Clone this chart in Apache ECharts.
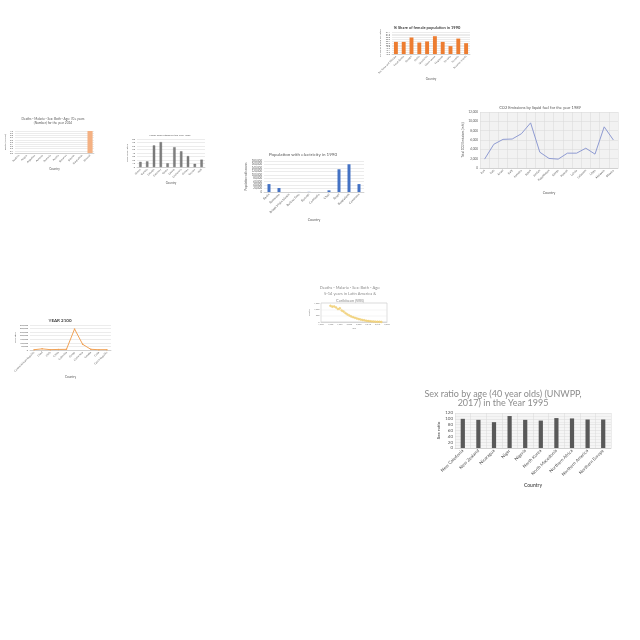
<!DOCTYPE html>
<html><head><meta charset="utf-8">
<script src="https://cdn.jsdelivr.net/npm/echarts@6/dist/echarts.min.js"></script>
<style>html,body{margin:0;padding:0;background:#fff}#c{width:640px;height:640px}</style>
</head><body><div id="c"></div>
<script>
// ---- data ----
const femaleCountries = ["Sao Tome and Principe","Saudi Arabia","Senegal","Serbia","Seychelles","Sierra Leone","Singapore","Slovakia","Slovenia","Solomon Islands"];
const femaleShare = [50.32,50.32,50.80,50.25,50.37,50.94,50.32,49.86,50.68,50.18];

const co2Countries = ["Iran","Iraq","Israel","Italy","Jamaica","Japan","Jordan","Kazakhstan","Kenya","Kuwait","Latvia","Lebanon","Libya","Malaysia","Mexico"];
const co2Values = [1900,5080,6140,6210,7340,9670,3390,2050,1900,3180,3180,4240,2970,8820,6000];

const elecCountries = ["Benin","Botswana","British Virgin Islands","Burkina Faso","Burundi","Cambodia","Chad","Brazil","Bangladesh","Cameroon"];
const elecValues = [46000,23000,0,400,900,200,9600,132000,161000,46000];

const laborCountries = ["Gabon","Gambia","Georgia","Germany","Ghana","Greece","Guatemala","Guinea","Guyana","Haiti"];
const laborValues = [14.6,16,61.6,71,10.5,56.5,44.8,31,9,21];

const mal70Countries = ["Andorra","Angola","Argentina","Armenia","Australia","Austria","Bahamas","Bahrain","Bangladesh","Burundi"];
const mal70Values = [0,0,0,0,0,0,0,0,0,1];

const y2100Countries = ["Central African Republic","Chad","Chile","China","Colombia","Congo","Costa Rica","Croatia","Cuba","Czech Republic"];
const y2100Values = [4000,16000,5000,8000,9000,294000,80000,10000,4000,5000];

const malLAYears = [1990,1991,1992,1993,1994,1995,1996,1997,1998,1999,2000,2001,2002,2003,2004,2005,2006,2007,2008,2009,2010,2011,2012,2013,2014,2015,2016,2017];
const malLAValues = [1280,1210,1230,1150,1020,1080,900,820,700,600,520,440,380,330,280,230,190,160,130,100,80,60,45,35,25,18,12,8];

const sexCountries = ["New Caledonia","New Zealand","Nicaragua","Niger","Nigeria","North Korea","North Macedonia","Northern Africa","Northern America","Northern Europe"];
const sexValues = [100,96.5,88.6,109.6,96.5,94,102.6,101.4,97.7,97.7];

// ---- build ----
const FONT = 'Lato';
const grids = [], xAxes = [], yAxes = [], series = [], titles = [];
const light = {color:'#d9d9d9', width:0.5};
function addChart(cfg){
  const gi = grids.length;
  grids.push(Object.assign({containLabel:false, show:!!cfg.gridBg || !!cfg.border,
    backgroundColor: cfg.gridBg || 'transparent', borderColor: cfg.border || 'transparent', borderWidth: cfg.border?0.5:0}, cfg.grid));
  xAxes.push(Object.assign({gridIndex:gi, type:'category', data:cfg.cats,
    axisLabel:{rotate:45, interval:0, fontSize:cfg.xfs, color:'#595959', margin:2, fontFamily:FONT},
    axisTick:{show:false}, axisLine:{lineStyle:{color:'#bfbfbf', width:0.6}},
    splitLine:{show:!!cfg.xSplit, lineStyle:light},
    name:'Country', nameLocation:'middle', nameGap:cfg.xGap,
    nameTextStyle:{fontSize:cfg.xfs+0.5, color:'#595959', fontFamily:FONT, fontWeight:cfg.nameBold?'bold':'normal'}}, cfg.xExtra||{}));
  yAxes.push(Object.assign({gridIndex:gi, type:'value', min:cfg.ymin, max:cfg.ymax, interval:cfg.yint,
    axisLabel:{fontSize:cfg.yfs, color:'#595959', margin:2, fontFamily:FONT, formatter:cfg.yfmt},
    axisLine:{show:false}, axisTick:{show:false},
    splitLine:{show:true, lineStyle:light},
    name:cfg.yname, nameLocation:'middle', nameGap:cfg.yGap, nameRotate:90,
    nameTextStyle:{fontSize:cfg.yfs, color:'#595959', fontFamily:FONT, fontWeight:cfg.nameBold?'bold':'normal'}}, cfg.yExtra||{}));
  series.push(Object.assign({xAxisIndex:gi, yAxisIndex:gi, data:cfg.data, silent:true, animation:false}, cfg.series));
  titles.push({text:cfg.title, left:cfg.tx, top:cfg.ty, textAlign:'center', padding:0,
    textStyle:Object.assign({fontSize:cfg.tfs, color:'#595959', fontWeight:'normal', fontFamily:FONT, lineHeight:cfg.tlh||cfg.tfs*1.2}, cfg.tstyle||{})});
}

// A: female share
addChart({grid:{left:392,top:32,width:78,height:22}, cats:femaleCountries, data:femaleShare,
  xfs:2.5, xGap:17, yfs:2.2, ymin:49, ymax:51.4, yint:0.2, yfmt:v=>v.toFixed(1), yname:'% share of female population', yGap:9,
  series:{type:'bar', barWidth:'50%', itemStyle:{color:'#ED7D31'}},
  title:'% Share of female population in 1990', tx:427, ty:25, tfs:4, tstyle:{color:'#404040', fontWeight:'bold'}});

// B: CO2 line
addChart({grid:{left:480,top:112,width:138,height:56}, gridBg:'#f2f2f2', xSplit:true, cats:co2Countries, data:co2Values,
  xfs:3, xGap:23, yfs:3, ymin:0, ymax:12000, yint:2000, yname:'Total CO2 Emissions (in kt)', yGap:13,
  series:{type:'line', symbol:'none', lineStyle:{color:'#8f9bd2', width:1}},
  title:'CO2 Emissions by liquid fuel for the year 1989', tx:540, ty:105, tfs:4});

// C: electricity
addChart({grid:{left:264,top:161,width:100,height:31}, cats:elecCountries, data:elecValues,
  xfs:3, xGap:26, yfs:2.8, ymin:0, ymax:180000, yint:20000, yfmt:v=>v.toLocaleString('en-US'), yname:'Population with access', yGap:15,
  series:{type:'bar', barWidth:'30%', itemStyle:{color:'#4472C4'}},
  title:'Population with electricity in 1990', tx:303, ty:152, tfs:4.5});

// D: labor
addChart({grid:{left:137,top:139,width:68,height:28}, cats:laborCountries, data:laborValues,
  xfs:2.5, xGap:14, yfs:2.3, ymin:0, ymax:80, yint:10, yname:'Labor force rating', yGap:9,
  series:{type:'bar', barWidth:'35%', itemStyle:{color:'#808080', borderColor:'#595959', borderWidth:0.3}},
  title:'Labor force rating for the year 1987', tx:170, ty:134, tfs:2.6});

// E: malaria 70+
addChart({grid:{left:15,top:131,width:79,height:22}, cats:mal70Countries, data:mal70Values,
  xfs:2.5, xGap:13, yfs:2.2, ymin:0, ymax:1, yint:0.1, yfmt:v=>v.toFixed(1), yname:'Deaths (Number)', yGap:8,
  series:{type:'bar', barWidth:'65%', itemStyle:{color:'#F4B183'}},
  title:'Deaths - Malaria - Sex: Both - Age: 70+ years\n(Number) for the year 2014', tx:53, ty:117, tfs:3.2, tlh:4});

// F: year 2100
addChart({grid:{left:30,top:325,width:81,height:25}, cats:y2100Countries, data:y2100Values,
  xfs:2.6, xGap:20, yfs:2.2, ymin:0, ymax:350000, yint:50000, yfmt:v=>v.toLocaleString('en-US'), yname:'Population', yGap:13,
  series:{type:'line', symbol:'circle', symbolSize:1.5, lineStyle:{color:'#F0A257', width:1}, itemStyle:{color:'#F0A257'}},
  title:'YEAR 2100', tx:60, ty:318, tfs:4.5, tstyle:{color:'#404040', fontWeight:'bold'}});

// G: malaria Latin America (value x axis)
(function(){
  const gi = grids.length;
  grids.push({left:321,top:303,width:66,height:19, show:true, borderColor:'#bfbfbf', borderWidth:0.5, backgroundColor:'transparent'});
  xAxes.push({gridIndex:gi, type:'value', min:1985, max:2020, interval:5,
    axisLabel:{fontSize:2.2, color:'#7f7f7f', margin:1.5, fontFamily:FONT}, axisTick:{show:false},
    axisLine:{lineStyle:{color:'#bfbfbf', width:0.5}}, splitLine:{show:false},
    name:'Year', nameLocation:'middle', nameGap:5, nameTextStyle:{fontSize:2.2, color:'#7f7f7f', fontFamily:FONT}});
  yAxes.push({gridIndex:gi, type:'value', min:0, max:1500, interval:500,
    axisLabel:{fontSize:2.2, color:'#7f7f7f', margin:1.5, fontFamily:FONT}, axisLine:{show:false}, axisTick:{show:false},
    splitLine:{show:true, lineStyle:{color:'#e5e5e5', width:0.4}},
    name:'Deaths', nameLocation:'middle', nameGap:8, nameTextStyle:{fontSize:2.2, color:'#7f7f7f', fontFamily:FONT}});
  series.push({type:'line', xAxisIndex:gi, yAxisIndex:gi, silent:true, animation:false,
    data:malLAYears.map((y,i)=>[y, malLAValues[i]]), symbol:'circle', symbolSize:2,
    lineStyle:{color:'#F2D27A', width:0.8, type:'dotted'}, itemStyle:{color:'#F5D98A', borderColor:'#E8C050', borderWidth:0.3}});
  titles.push({text:'Deaths - Malaria - Sex: Both - Age:\n5-14 years in Latin America &\nCaribbean (WB)', left:350, top:284, textAlign:'center', padding:0,
    textStyle:{fontSize:4, lineHeight:6.5, color:'#8c8c8c', fontWeight:'normal', fontFamily:FONT}});
})();

// H: sex ratio
addChart({grid:{left:455,top:413,width:156,height:35}, gridBg:'#f5f5f5', xSplit:true, cats:sexCountries, data:sexValues,
  xfs:4.5, xGap:35, yfs:4.5, ymin:0, ymax:120, yint:20, yname:'Sex ratio', yGap:13, nameBold:true,
  yExtra:{minorSplitLine:{show:true, lineStyle:{color:'#e3e3e3', width:0.5}}, minorTick:{show:false, splitNumber:2}},
  series:{type:'bar', barWidth:'27%', itemStyle:{color:'#595959'}},
  title:'Sex ratio by age (40 year olds) (UNWPP,\n2017) in the Year 1995', tx:503, ty:389, tfs:9, tlh:9.5, tstyle:{color:'#8c8c8c'}});

const chart = echarts.init(document.getElementById('c'), null, {renderer:'canvas'});
chart.setOption({animation:false, backgroundColor:'#ffffff', title:titles, grid:grids, xAxis:xAxes, yAxis:yAxes, series:series});
</script></body></html>
